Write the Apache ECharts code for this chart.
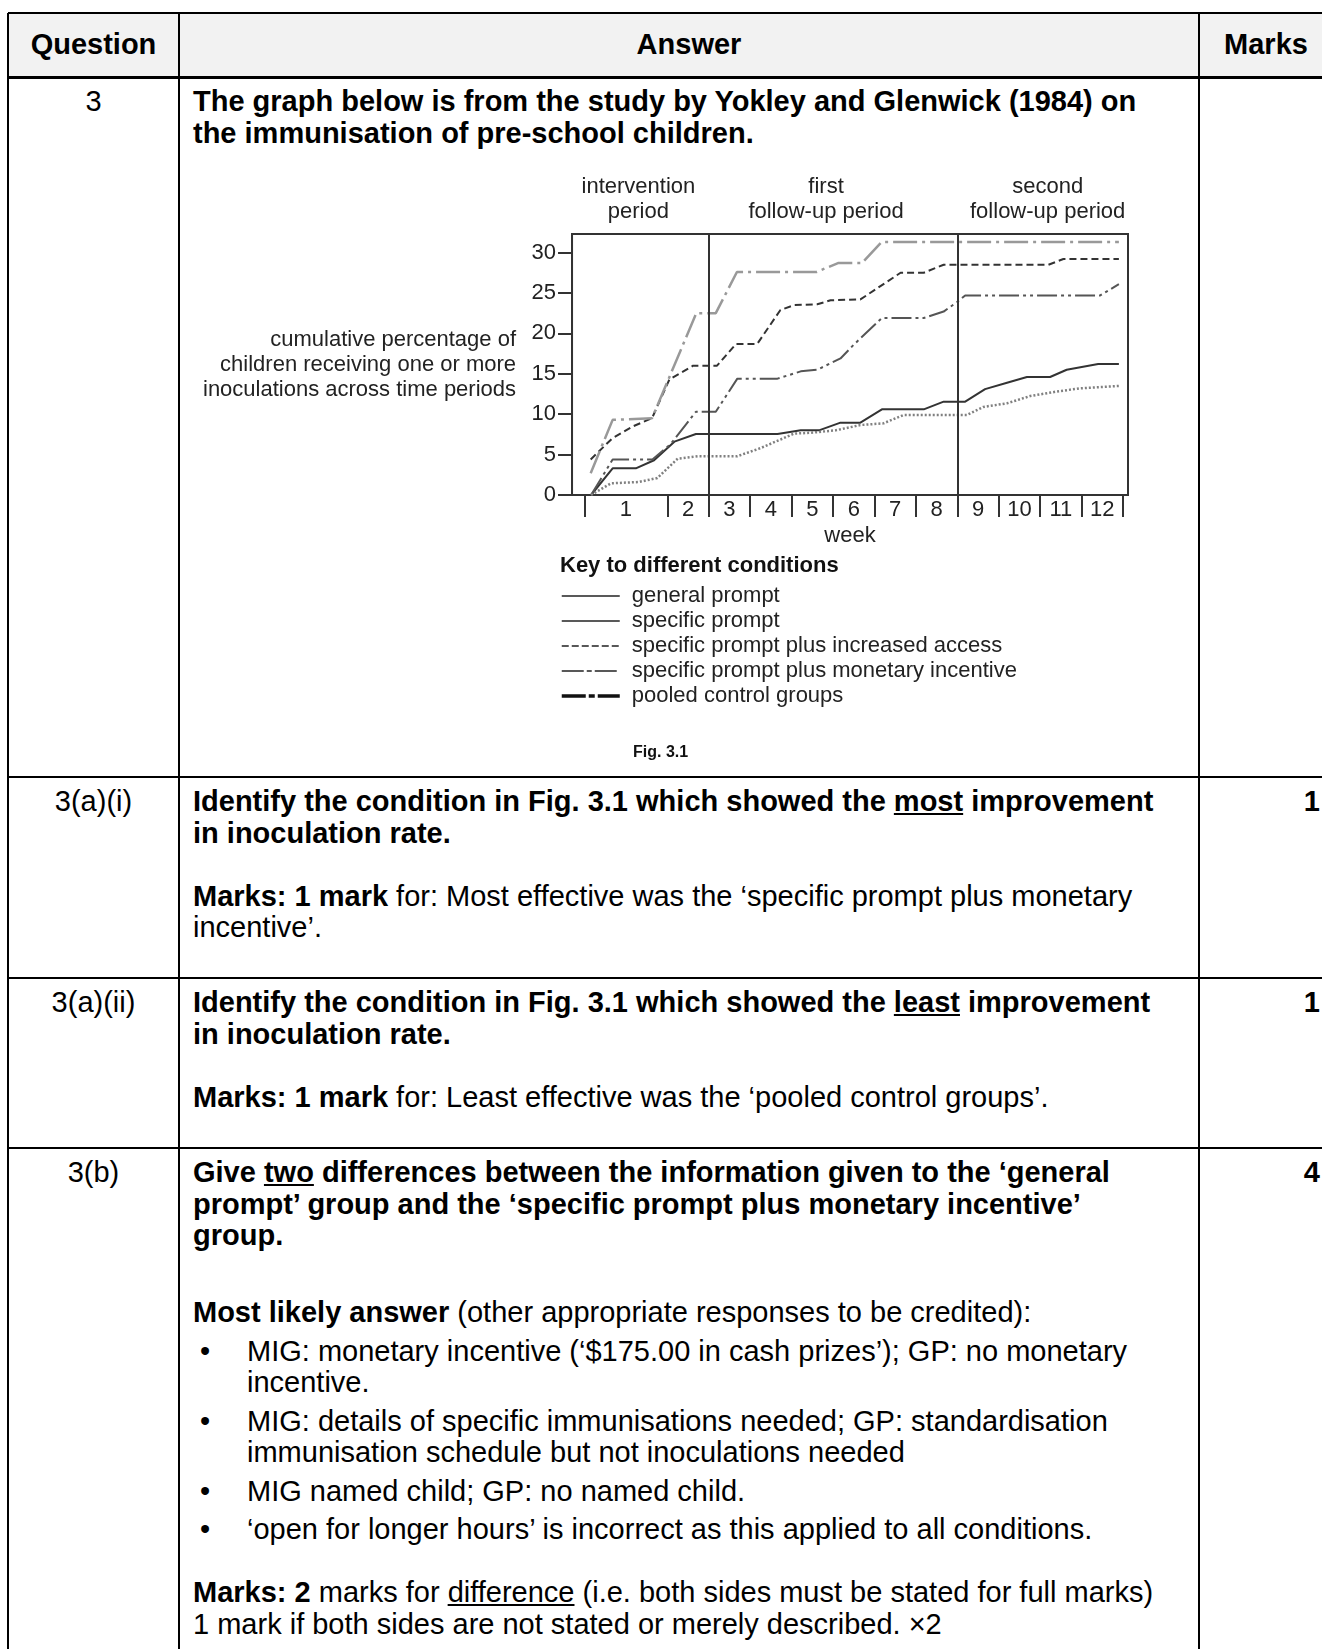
<!DOCTYPE html>
<html><head><meta charset="utf-8">
<script src="https://cdn.jsdelivr.net/npm/echarts@6/dist/echarts.min.js"></script>
<style>
html,body{margin:0;padding:0;background:#fff;width:1322px;height:1649px;overflow:hidden;}
body{font-family:"Liberation Sans",Arial,sans-serif;color:#000;position:relative;}
.h{position:absolute;left:8px;width:1330px;background:#000;}
.v{position:absolute;top:13px;width:2px;height:1650px;background:#000;}
.t{position:absolute;font-size:29px;line-height:31.5px;white-space:nowrap;}
.c1{left:8px;width:171px;text-align:center;}
.c2{left:193px;}
.c3{left:1199px;width:121px;text-align:right;font-weight:bold;}
.b{font-weight:bold;}
.p{margin:0;}
.sp{margin-bottom:7px;}
.bl{display:flex;}
.bl span.d{display:inline-block;width:47px;padding-left:7px;flex:none;}
#chart{position:absolute;left:200px;top:150px;width:990px;height:620px;}
</style></head>
<body>
<div style="position:absolute;left:8px;top:13px;width:1330px;height:64px;background:#f2f2f2;"></div>
<div class="h" style="top:12px;height:2px;"></div>
<div class="h" style="top:76px;height:3px;"></div>
<div class="h" style="top:776px;height:2px;"></div>
<div class="h" style="top:977px;height:2px;"></div>
<div class="h" style="top:1147px;height:2px;"></div>
<div class="v" style="left:7px;"></div>
<div class="v" style="left:178px;"></div>
<div class="v" style="left:1198px;"></div>

<div class="t b" style="left:8px;width:171px;text-align:center;top:29px;">Question</div>
<div class="t b" style="left:179px;width:1020px;text-align:center;top:29px;">Answer</div>
<div class="t b" style="left:1199px;width:134px;text-align:center;top:29px;">Marks</div>

<div class="t c1" style="top:86px;">3</div>
<div class="t c2 b" style="top:86px;">The graph below is from the study by Yokley and Glenwick (1984) on<br>the immunisation of pre-school children.</div>

<div class="t c1" style="top:786px;">3(a)(i)</div>
<div class="t c2" style="top:786px;"><b>Identify the condition in Fig. 3.1 which showed the <u>most</u> improvement<br>in inoculation rate.</b><br><br><b>Marks: 1 mark</b> for: Most effective was the ‘specific prompt plus monetary<br>incentive’.</div>
<div class="t c3" style="top:786px;">1</div>

<div class="t c1" style="top:987px;">3(a)(ii)</div>
<div class="t c2" style="top:987px;"><b>Identify the condition in Fig. 3.1 which showed the <u>least</u> improvement<br>in inoculation rate.</b><br><br><b>Marks: 1 mark</b> for: Least effective was the ‘pooled control groups’.</div>
<div class="t c3" style="top:987px;">1</div>

<div class="t c1" style="top:1157px;">3(b)</div>
<div class="t c2" style="top:1157px;">
<div class="p sp b">Give <u>two</u> differences between the information given to the ‘general<br>prompt’ group and the ‘specific prompt plus monetary incentive’<br>group.</div>
<div class="p sp">&nbsp;</div>
<div class="p sp"><b>Most likely answer</b> (other appropriate responses to be credited):</div>
<div class="p sp bl"><span class="d">•</span><span>MIG: monetary incentive (‘$175.00 in cash prizes’); GP: no monetary<br>incentive.</span></div>
<div class="p sp bl"><span class="d">•</span><span>MIG: details of specific immunisations needed; GP: standardisation<br>immunisation schedule but not inoculations needed</span></div>
<div class="p sp bl"><span class="d">•</span><span>MIG named child; GP: no named child.</span></div>
<div class="p bl"><span class="d">•</span><span>‘open for longer hours’ is incorrect as this applied to all conditions.</span></div>
<div class="p">&nbsp;</div>
<div class="p"><b>Marks: 2</b> marks for <u>difference</u> (i.e. both sides must be stated for full marks)<br>1 mark if both sides are not stated or merely described. ×2</div>
</div>
<div class="t c3" style="top:1157px;">4</div>

<div id="chart"></div>
<script>
// ---- data ----
const weekLabels = ['1','2','3','4','5','6','7','8','9','10','11','12'];
const weekBoundaries = [-1,1,2,3,4,5,6,7,8,9,10,11,12];
const periodBreaks = [2, 8];
const periodNames = ['intervention\nperiod','first\nfollow-up period','second\nfollow-up period'];
const yTicks = [0,5,10,15,20,25,30];
const yAxisTitle = 'cumulative percentage of\nchildren receiving one or more\ninoculations across time periods';
const seriesNames = ['general prompt','specific prompt','specific prompt plus increased access','specific prompt plus monetary incentive','pooled control groups'];

const monetaryX = [-0.85,-0.32,0.63,1.7,2.17,2.68,4.6,5.12,5.7,6.17,11.9];
const monetaryY = [2.7,9.3,9.5,22.5,22.5,27.6,27.6,28.7,28.7,31.3,31.3];

const accessX = [-0.85,-0.33,0.17,0.63,1.05,1.62,2.2,2.66,3.17,3.73,4.06,4.62,4.94,5.66,6.63,7.19,7.67,10.2,10.56,11.9];
const accessY = [4.4,7.0,8.5,9.5,14.3,16.0,16.0,18.7,18.7,22.9,23.5,23.6,24.1,24.2,27.5,27.5,28.5,28.5,29.2,29.2];

const specificX = [-0.84,-0.32,0.64,1.08,1.69,2.17,2.69,3.66,4.22,4.62,5.18,5.5,6.18,7.19,7.67,8.0,8.19,11.45,11.9];
const specificY = [0,4.4,4.4,6.3,10.3,10.3,14.4,14.4,15.3,15.5,16.9,18.6,21.9,21.9,22.7,23.9,24.7,24.7,26.1];

const generalX = [-0.84,-0.32,0.24,0.68,1.17,1.69,3.66,4.22,4.66,5.18,5.66,6.18,7.19,7.67,8.19,8.67,9.2,9.68,10.24,10.64,11.4,11.9];
const generalY = [0,3.3,3.3,4.3,6.6,7.55,7.55,8.0,8.0,8.95,8.95,10.6,10.6,11.55,11.55,13.1,13.9,14.6,14.6,15.5,16.2,16.2];

const pooledX = [-0.84,-0.36,0.3,0.76,1.25,1.73,2.69,3.25,4.06,4.46,5.06,5.66,6.22,6.7,8.23,8.63,9.2,9.76,10.4,10.96,11.9];
const pooledY = [0,1.45,1.6,2.1,4.5,4.8,4.8,5.8,7.6,7.7,8.0,8.66,8.87,9.9,9.9,10.9,11.35,12.25,12.8,13.2,13.5];

// ---- build ----
const zip = (xs, ys) => xs.map((x, i) => [x, ys[i]]);
const xMin = -1.3, xMax = 12.12;
const weekMids = weekBoundaries.slice(0, -1).map((b, i) => (b + weekBoundaries[i + 1]) / 2);
const pEdges = [xMin].concat(periodBreaks, [xMax]);
const periodMids = pEdges.slice(0, -1).map((b, i) => (b + pEdges[i + 1]) / 2);
const FONT = '"Liberation Sans", Arial, sans-serif';
const TXT = '#222';
const FS = 22;

const chart = echarts.init(document.getElementById('chart'), null, {renderer: 'canvas'});
const mk = (name, xs, ys, ls, extra) => Object.assign({
  name, type: 'line', data: zip(xs, ys), symbol: 'none', silent: true,
  lineStyle: ls, itemStyle: {color: ls.color}, z: 3
}, extra || {});

chart.setOption({
  animation: false,
  title: [
    {text: 'Key to different conditions', left: 355, top: 400,
     textStyle: {fontFamily: FONT, fontSize: 22, fontWeight: 'bold', color: '#111'}},
    {text: 'Fig. 3.1', left: 428, top: 590,
     textStyle: {fontFamily: FONT, fontSize: 16, fontWeight: 'bold', color: '#111'}}
  ],
  legend: {
    orient: 'vertical', left: 355, top: 430, itemWidth: 58, itemHeight: 14, itemGap: 3,
    selectedMode: false,
    itemStyle: {opacity: 0, borderWidth: 0},
    textStyle: {fontFamily: FONT, fontSize: FS, color: TXT, lineHeight: 22, padding: [0, 0, 0, 7]},
    data: [
      {name: seriesNames[0], itemStyle: {opacity: 0}, lineStyle: {type: 'solid', width: 1.5, color: '#222'}},
      {name: seriesNames[1], itemStyle: {opacity: 0}, lineStyle: {type: 'solid', width: 1.5, color: '#222'}},
      {name: seriesNames[2], itemStyle: {opacity: 0}, lineStyle: {type: [7, 3], width: 1.5, color: '#222'}},
      {name: seriesNames[3], itemStyle: {opacity: 0}, lineStyle: {type: [22, 3, 5, 3], width: 1.5, color: '#222'}},
      {name: seriesNames[4], itemStyle: {opacity: 0}, lineStyle: {type: [24, 3, 6, 3], width: 3.5, color: '#111'}}
    ]
  },
  grid: {left: 371, top: 84, width: 557, height: 261, show: true, borderColor: '#333', borderWidth: 2, backgroundColor: 'transparent'},
  xAxis: [{
    type: 'value', min: xMin, max: xMax, position: 'bottom',
    axisLine: {show: true, onZero: false, lineStyle: {color: '#333', width: 2}},
    axisTick: {show: true, customValues: weekBoundaries, length: 22, inside: false, lineStyle: {color: '#333', width: 2}},
    axisLabel: {customValues: weekMids, margin: 4, fontFamily: FONT, fontSize: FS, color: TXT,
      formatter: v => { const i = weekMids.findIndex(m => Math.abs(m - v) < 1e-6); return i >= 0 ? weekLabels[i] : ''; }},
    splitLine: {show: false},
    name: 'week', nameLocation: 'middle', nameGap: 30,
    nameTextStyle: {fontFamily: FONT, fontSize: FS, color: TXT}
  }, {
    type: 'value', min: xMin, max: xMax, position: 'top',
    axisLine: {show: false}, axisTick: {show: false}, splitLine: {show: false},
    axisLabel: {customValues: periodMids, margin: 10, fontFamily: FONT, fontSize: FS, color: TXT, lineHeight: 25,
      formatter: v => {
        const i = periodMids.findIndex(m => Math.abs(m - v) < 1e-6);
        if (i < 0) return '';
        const st = ['a', 'b', 'c'][i];
        return periodNames[i].split('\n').map(s => '{' + st + '|' + s + '}').join('\n');
      },
      rich: {
        a: {fontFamily: FONT, fontSize: FS, color: TXT, lineHeight: 25, padding: [0, 4, 0, 0]},
        b: {fontFamily: FONT, fontSize: FS, color: TXT, lineHeight: 25, padding: [0, 14, 0, 0]},
        c: {fontFamily: FONT, fontSize: FS, color: TXT, lineHeight: 25, padding: [0, 0, 0, 10]}
      }}
  }],
  yAxis: {
    type: 'value', min: 0, max: 32.3, interval: 5,
    axisLine: {show: true, onZero: false, lineStyle: {color: '#333', width: 2}},
    axisTick: {show: true, customValues: yTicks, length: 14, inside: false, lineStyle: {color: '#333', width: 2}},
    axisLabel: {customValues: yTicks, margin: 16, fontFamily: FONT, fontSize: FS, color: TXT},
    splitLine: {show: false},
    name: yAxisTitle, nameLocation: 'middle', nameRotate: 0, nameGap: 56,
    nameTextStyle: {fontFamily: FONT, fontSize: FS, color: TXT, lineHeight: 25, align: 'right', verticalAlign: 'middle', padding: [0, 0, 25, 0]}
  },
  series: [
    mk(seriesNames[0], generalX, generalY, {color: '#333', width: 2, type: 'solid'}),
    mk(seriesNames[1], specificX, specificY, {color: '#555', width: 2, type: [20, 4, 3, 4, 3, 4]}),
    mk(seriesNames[2], accessX, accessY, {color: '#333', width: 2, type: [7, 4]}),
    mk(seriesNames[3], monetaryX, monetaryY, {color: '#999', width: 2.5, type: [24, 5, 3, 5]}, {
      markLine: {silent: true, symbol: 'none', label: {show: false},
        lineStyle: {color: '#333', width: 2, type: 'solid'},
        data: periodBreaks.map(b => ({xAxis: b}))}
    }),
    mk(seriesNames[4], pooledX, pooledY, {color: '#808080', width: 2.5, type: [2, 2]})
  ]
});
</script>
</body></html>
